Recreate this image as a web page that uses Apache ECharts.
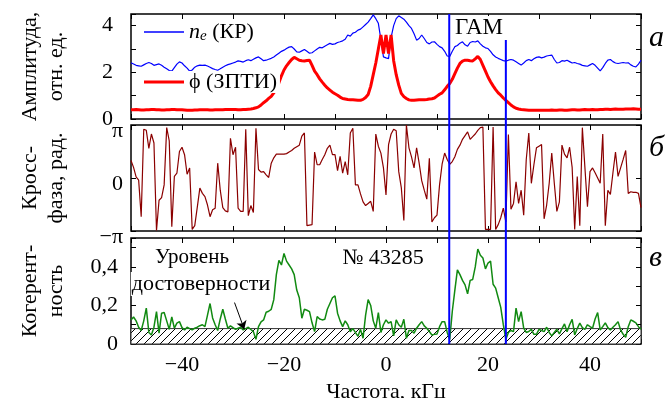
<!DOCTYPE html>
<html>
<head>
<meta charset="utf-8">
<script src="https://cdn.jsdelivr.net/npm/echarts@6/dist/echarts.min.js"></script>
<style>
  html, body { margin: 0; padding: 0; background: #fff; }
  #chart { width: 666px; height: 398px; }
</style>
</head>
<body>
<div id="chart"></div>
<script>
// частотная сетка, кГц (шаг 0.5)
const freq = Array.from({ length: 201 }, (_, i) => -50 + i * 0.5);

// амплитуда n_e (КР), отн. ед.
const neAmp = [
  2.41, 2.36, 2.30, 2.28, 2.26, 2.32, 2.38, 2.42, 2.38, 2.30, 2.33, 2.36, 2.30, 2.22, 2.15, 2.08, 2.05, 2.20, 2.35, 2.45,
  2.40, 2.28, 2.18, 2.05, 2.10, 2.22, 2.28, 2.31, 2.30, 2.31, 2.27, 2.22, 2.16, 2.12, 2.09, 2.15, 2.22, 2.28, 2.33, 2.36,
  2.40, 2.44, 2.49, 2.47, 2.44, 2.50, 2.54, 2.50, 2.56, 2.62, 2.66, 2.58, 2.50, 2.52, 2.56, 2.60, 2.66, 2.74, 2.82, 2.90,
  2.95, 3.02, 3.08, 3.10, 3.00, 2.88, 2.86, 2.92, 2.98, 2.90, 2.82, 2.84, 2.92, 3.00, 3.07, 3.05, 3.12, 3.18, 3.24, 3.20,
  3.22, 3.28, 3.31, 3.35, 3.42, 3.60, 3.55, 3.68, 3.72, 3.81, 3.85, 3.95, 4.05, 4.15, 4.30, 4.46, 4.30, 4.10, 3.40, 2.66,
  2.62, 2.59, 3.50, 4.00, 4.30, 4.42, 4.35, 4.28, 4.15, 4.00, 3.88, 3.65, 3.38, 3.45, 3.60, 3.45, 3.28, 3.22, 3.30, 3.31,
  3.20, 3.10, 3.05, 2.90, 2.70, 2.68, 2.90, 3.10, 3.15, 3.25, 3.31, 3.18, 3.12, 3.28, 3.32, 3.30, 3.35, 3.22, 3.12, 3.05,
  3.02, 2.90, 2.75, 2.66, 2.60, 2.55, 2.50, 2.48, 2.52, 2.55, 2.52, 2.45, 2.38, 2.31, 2.40, 2.50, 2.55, 2.50, 2.58, 2.64,
  2.66, 2.62, 2.65, 2.70, 2.72, 2.74, 2.55, 2.40, 2.42, 2.50, 2.48, 2.52, 2.46, 2.40, 2.42, 2.38, 2.35, 2.30, 2.28, 2.26,
  2.32, 2.38, 2.30, 2.18, 2.06, 2.20, 2.38, 2.52, 2.55, 2.46, 2.40, 2.38, 2.40, 2.42, 2.40, 2.41, 2.32, 2.26, 2.23, 2.35,
  2.52
];

// амплитуда ϕ (ЗПТИ), отн. ед.
const phiAmp = [
  0.40, 0.40, 0.41, 0.40, 0.39, 0.39, 0.40, 0.40, 0.41, 0.41, 0.40, 0.40, 0.39, 0.39, 0.40, 0.40, 0.41, 0.41, 0.40, 0.40,
  0.40, 0.39, 0.38, 0.38, 0.38, 0.39, 0.39, 0.40, 0.40, 0.40, 0.40, 0.39, 0.39, 0.40, 0.40, 0.40, 0.40, 0.41, 0.41, 0.41,
  0.41, 0.41, 0.40, 0.40, 0.41, 0.41, 0.42, 0.43, 0.45, 0.48, 0.52, 0.60, 0.70, 0.78, 0.88, 0.97, 1.12, 1.30, 1.55, 1.85,
  2.10, 2.28, 2.42, 2.55, 2.64, 2.58, 2.52, 2.50, 2.49, 2.51, 2.52, 2.30, 2.05, 1.90, 1.72, 1.58, 1.45, 1.33, 1.24, 1.15,
  1.08, 1.02, 0.94, 0.88, 0.86, 0.84, 0.83, 0.82, 0.81, 0.80, 0.80, 0.84, 0.92, 1.05, 1.40, 1.90, 2.40, 3.00, 3.60, 2.80,
  3.60, 2.80, 3.60, 2.50, 1.90, 1.45, 1.10, 0.96, 0.88, 0.82, 0.80, 0.80, 0.81, 0.82, 0.83, 0.83, 0.84, 0.86, 0.87, 0.90,
  0.98, 1.06, 1.12, 1.25, 1.40, 1.52, 1.70, 1.94, 2.18, 2.38, 2.48, 2.52, 2.52, 2.50, 2.49, 2.58, 2.68, 2.55, 2.30, 2.05,
  1.80, 1.60, 1.42, 1.26, 1.12, 1.02, 0.90, 0.80, 0.70, 0.60, 0.52, 0.46, 0.43, 0.41, 0.40, 0.39, 0.38, 0.38, 0.38, 0.38,
  0.38, 0.38, 0.37, 0.38, 0.38, 0.39, 0.38, 0.38, 0.39, 0.39, 0.38, 0.38, 0.39, 0.40, 0.40, 0.39, 0.39, 0.40, 0.41, 0.40,
  0.40, 0.41, 0.40, 0.40, 0.41, 0.41, 0.42, 0.42, 0.41, 0.42, 0.43, 0.42, 0.42, 0.42, 0.43, 0.43, 0.43, 0.44, 0.43, 0.42,
  0.42
];

// кросс-фаза, в единицах π
const crossPhase = [
  0.33, 0.20, 0.02, -0.04, -0.73, 0.92, 0.90, 0.56, 0.83, 0.66, -0.99, -0.42, -0.37, -0.13, 0.95, 0.70, -0.92, 0.03, 0.09, 0.50,
  0.58, 0.44, 0.07, 0.19, -0.97, -0.90, -0.55, -0.19, -0.29, -0.35, -0.51, -0.73, -0.60, -0.57, 0.28, -0.23, -0.56, -0.62, -0.64, 0.75,
  0.44, 0.58, -0.57, -0.63, -0.63, 0.92, -0.71, -0.52, -0.65, 0.94, 0.16, 0.11, 0.12, 0.06, 0.01, 0.28, 0.38, 0.45, 0.45, 0.45,
  0.45, 0.46, 0.49, 0.52, 0.56, 0.59, 0.62, 0.79, 0.85, -0.90, -0.89, -0.88, 0.49, 0.25, 0.25, 0.35, 0.44, 0.56, 0.62, 0.44,
  0.44, 0.14, 0.41, 0.09, 0.31, 0.06, 0.85, 0.94, -0.13, -0.13, -0.30, -0.45, -0.52, -0.48, -0.44, -0.63, 0.83, 0.60, 0.47, 0.19,
  -0.32, 0.63, 0.83, 0.92, 0.89, 0.12, -0.18, -0.80, 1.00, 0.57, 0.40, 0.19, 0.57, 0.28, -0.05, -0.23, -0.40, 0.37, -0.83, -0.75,
  -0.70, -0.13, 0.26, 0.47, 0.35, 0.26, 0.31, 0.40, 0.54, 0.62, 0.73, 0.80, 0.87, 0.73, 0.78, 0.83, 0.90, 0.95, 0.96, -0.97,
  -0.97, -0.97, 0.96, -0.97, -0.88, -0.75, -0.57, -0.83, 0.82, -0.59, -0.48, -0.07, -0.48, -0.23, -0.70, 0.35, 0.85, -0.10, 0.25, 0.57,
  0.60, 0.63, -0.77, -0.51, -0.10, 0.47, -0.10, -0.63, -0.45, 0.62, 0.45, 0.38, 0.58, 0.20, -0.97, 0.03, -0.90, 0.95, 0.20, -0.54,
  0.12, 0.19, 0.10, 0.00, -0.10, 0.83, -0.90, -0.23, -0.31, 0.10, 0.49, 0.03, 0.19, 0.35, 0.52, -0.29, -0.26, -0.27, -0.27, -0.29,
  -0.56
];

// когерентность
const coherence = [
  0.125, 0.14, 0.12, 0.087, 0.07, 0.12, 0.186, 0.06, 0.047, 0.087, 0.168, 0.056, 0.16, 0.163, 0.12, 0.076, 0.14, 0.082, 0.108, 0.116,
  0.085, 0.073, 0.087, 0.08, 0.073, 0.082, 0.087, 0.095, 0.1, 0.09, 0.15, 0.21, 0.135, 0.1, 0.07, 0.13, 0.18, 0.13, 0.082, 0.094,
  0.085, 0.076, 0.082, 0.087, 0.073, 0.08, 0.087, 0.075, 0.064, 0.024, 0.09, 0.115, 0.125, 0.165, 0.17, 0.18, 0.23, 0.36, 0.434, 0.41,
  0.47, 0.43, 0.41, 0.39, 0.36, 0.28, 0.24, 0.134, 0.18, 0.175, 0.168, 0.11, 0.064, 0.142, 0.13, 0.125, 0.128, 0.18, 0.21, 0.24,
  0.25, 0.16, 0.12, 0.09, 0.12, 0.1, 0.064, 0.08, 0.06, 0.04, 0.076, 0.03, 0.15, 0.23, 0.2, 0.12, 0.082, 0.163, 0.06, 0.1,
  0.125, 0.108, 0.116, 0.042, 0.125, 0.1, 0.087, 0.128, 0.03, 0.07, 0.07, 0.056, 0.082, 0.1, 0.116, 0.094, 0.082, 0.065, 0.047, 0.05,
  0.052, 0.09, 0.116, 0.116, 0.06, 0.024, 0.17, 0.28, 0.385, 0.36, 0.33, 0.307, 0.26, 0.33, 0.335, 0.40, 0.493, 0.46, 0.446, 0.39,
  0.42, 0.43, 0.31, 0.29, 0.24, 0.19, 0.1, 0.024, 0.06, 0.07, 0.064, 0.186, 0.116, 0.168, 0.082, 0.06, 0.065, 0.076, 0.05, 0.05,
  0.076, 0.07, 0.064, 0.087, 0.06, 0.042, 0.06, 0.076, 0.052, 0.08, 0.104, 0.064, 0.1, 0.128, 0.047, 0.08, 0.108, 0.085, 0.076, 0.1,
  0.09, 0.082, 0.13, 0.163, 0.073, 0.09, 0.11, 0.085, 0.073, 0.087, 0.1, 0.116, 0.073, 0.05, 0.035, 0.09, 0.125, 0.118, 0.11, 0.09,
  0.076
];

const confLevel = 0.08;          // уровень достоверности
const gamBand = [12.4, 23.5];    // границы ГАМ, кГц
const arrowFrom = [-29.7, 0.215];
const arrowTo = [-27.8, 0.077];
const ampMax = 4.5;

const FONT = '"Liberation Serif", "Times New Roman", serif';

// штриховка полосы достоверности
function hatchCanvas() {
  const c = document.createElement('canvas');
  c.width = 8; c.height = 8;
  const g = c.getContext('2d');
  g.fillStyle = '#fff';
  g.fillRect(0, 0, 8, 8);
  g.strokeStyle = '#000';
  g.lineWidth = 1;
  g.beginPath();
  g.moveTo(0, 8); g.lineTo(8, 0);
  g.moveTo(-1, 1); g.lineTo(1, -1);
  g.moveTo(7, 9); g.lineTo(9, 7);
  g.stroke();
  return c;
}

const chart = echarts.init(document.getElementById('chart'));

const tickStyle = { show: true, inside: true, length: 5, lineStyle: { color: '#000', width: 1 } };
const noLine = { show: false, onZero: false };
const nameStyle = { fontFamily: FONT, fontSize: 22, color: '#000', lineHeight: 26 };
const labelStyle = { fontFamily: FONT, fontSize: 22, color: '#000' };

function xAx(gridIndex, position, withLabels) {
  return {
    type: 'value', gridIndex, position, min: -50, max: 50, interval: 10,
    axisLine: noLine,
    axisTick: tickStyle,
    splitLine: { show: false },
    axisLabel: withLabels ? {
      ...labelStyle, margin: 10, showMinLabel: true, showMaxLabel: true,
      formatter: v => (v % 20 === 0 && Math.abs(v) < 50) ? (v < 0 ? '\u2212' + (-v) : String(v)) : ''
    } : { show: false }
  };
}

function yRight(gridIndex, min, max, interval) {
  return {
    type: 'value', gridIndex, position: 'right', min, max, interval,
    axisLine: noLine, axisTick: tickStyle,
    splitLine: { show: false }, axisLabel: { show: false }
  };
}

function gridAt(top, height) {
  return {
    left: 131, right: 25, top, height, show: true,
    borderColor: '#000', borderWidth: 1.5,
    containLabel: false, outerBoundsMode: 'none'
  };
}

const option = {
  animation: false,
  backgroundColor: '#fff',
  grid: [gridAt(14, 105), gridAt(125, 106), gridAt(238, 106)],
  xAxis: [
    xAx(0, 'bottom', false), xAx(0, 'top', false),
    xAx(1, 'bottom', false), xAx(1, 'top', false),
    Object.assign(xAx(2, 'bottom', true), {
      name: 'Частота, кГц', nameLocation: 'middle', nameGap: 35, nameTextStyle: nameStyle
    }),
    xAx(2, 'top', false)
  ],
  yAxis: [
    {
      type: 'value', gridIndex: 0, position: 'left', min: 0, max: ampMax, interval: 1,
      name: 'Амплитуда,\nотн. ед.', nameLocation: 'middle', nameRotate: 90, nameGap: 62,
      nameTextStyle: nameStyle,
      axisLine: noLine, axisTick: tickStyle, splitLine: { show: false },
      axisLabel: { ...labelStyle, margin: 18, formatter: v => (v % 2 === 0 ? String(v) : '') }
    },
    yRight(0, 0, ampMax, 1),
    {
      type: 'value', gridIndex: 1, position: 'left', min: -1, max: 1, interval: 1,
      name: 'Кросс-\nфаза, рад.', nameLocation: 'middle', nameRotate: 90, nameGap: 62,
      nameTextStyle: nameStyle,
      axisLine: noLine, axisTick: tickStyle, splitLine: { show: false },
      axisLabel: {
        ...labelStyle, margin: 8, verticalAlign: 'top', lineHeight: 12,
        formatter: v => (v === 1 ? 'π' : v === -1 ? '\u2212π' : '0')
      }
    },
    yRight(1, -1, 1, 1),
    {
      type: 'value', gridIndex: 2, position: 'left', min: 0, max: 0.55, interval: 0.1,
      name: 'Когерент-\nность', nameLocation: 'middle', nameRotate: 90, nameGap: 62,
      nameTextStyle: nameStyle,
      axisLine: noLine, axisTick: tickStyle, splitLine: { show: false },
      axisLabel: {
        ...labelStyle, margin: 13,
        formatter: v => {
          const r = Math.round(v * 10);
          if (Math.abs(v * 10 - r) > 1e-6 || r % 2 !== 0) return '';
          return r === 0 ? '0' : (r / 10).toFixed(1).replace('.', ',');
        }
      }
    },
    yRight(2, 0, 0.55, 0.1)
  ],
  legend: [
    {
      data: [{ name: 'ne', icon: 'rect' }], left: 141, top: 21, itemWidth: 40, itemHeight: 1.5, itemGap: 0,
      backgroundColor: '#fff', padding: [0, 3, 0, 3], selectedMode: false,
      formatter: () => '{n|n}{e|e} (КР)',
      textStyle: {
        ...labelStyle,
        rich: {
          n: { fontFamily: FONT, fontSize: 22, fontStyle: 'italic', color: '#000' },
          e: { fontFamily: FONT, fontSize: 15, fontStyle: 'italic', color: '#000', verticalAlign: 'bottom', padding: [9, 0, 0, 0] }
        }
      }
    },
    {
      data: [{ name: 'phi', icon: 'rect' }], left: 141, top: 71, itemWidth: 40, itemHeight: 3, itemGap: 0,
      backgroundColor: '#fff', padding: [0, 3, 0, 3], selectedMode: false,
      formatter: () => 'ϕ (ЗПТИ)',
      textStyle: labelStyle
    }
  ],
  series: [
    {
      name: 'ne', type: 'line', xAxisIndex: 0, yAxisIndex: 0, symbol: 'none',
      data: freq.map((f, i) => [f, neAmp[i]]),
      lineStyle: { color: '#0000ff', width: 1.2 }, itemStyle: { color: '#0000ff' }
    },
    {
      name: 'phi', type: 'line', xAxisIndex: 0, yAxisIndex: 0, symbol: 'none',
      data: freq.map((f, i) => [f, phiAmp[i]]),
      lineStyle: { color: '#ff0000', width: 3 }, itemStyle: { color: '#ff0000' }
    },
    {
      name: 'phase', type: 'line', xAxisIndex: 2, yAxisIndex: 2, symbol: 'none',
      data: freq.map((f, i) => [f, crossPhase[i]]),
      lineStyle: { color: '#8b0000', width: 1.2 }
    },
    {
      name: 'coh', type: 'line', xAxisIndex: 4, yAxisIndex: 4, symbol: 'none',
      data: freq.map((f, i) => [f, coherence[i]]),
      lineStyle: { color: '#118a11', width: 1.5 },
      markArea: {
        silent: true,
        itemStyle: {
          color: { image: hatchCanvas(), repeat: 'repeat' },
          opacity: 1, borderColor: '#333', borderWidth: 1
        },
        data: [[{ xAxis: -50, yAxis: 0 }, { xAxis: 50, yAxis: confLevel }]]
      },
      markLine: {
        silent: true, symbol: ['none', 'arrow'], symbolSize: 8,
        label: { show: false },
        lineStyle: { color: '#000', width: 1, type: 'solid' },
        data: [[{ coord: arrowFrom }, { coord: arrowTo }]]
      }
    }
  ]
};

chart.setOption(option);

// вертикальные границы ГАМ через все панели
const xLo = chart.convertToPixel({ xAxisIndex: 0 }, gamBand[0]);
const xHi = chart.convertToPixel({ xAxisIndex: 0 }, gamBand[1]);
const yTop = chart.convertToPixel({ yAxisIndex: 0 }, ampMax);
const yBot = chart.convertToPixel({ yAxisIndex: 4 }, 0);

function txt(x, y, text, font, extra) {
  return {
    type: 'text', x, y, z: 100,
    style: Object.assign({ text, font: font + ' ' + FONT, fill: '#000', textVerticalAlign: 'middle' }, extra || {})
  };
}

chart.setOption({
  graphic: [
    { type: 'line', z: 50, shape: { x1: xLo, y1: yTop, x2: xLo, y2: yBot }, style: { stroke: '#0000ff', lineWidth: 2 } },
    { type: 'line', z: 50, shape: { x1: xHi, y1: yTop + 26, x2: xHi, y2: yBot }, style: { stroke: '#0000ff', lineWidth: 2 } },
    txt((xLo + xHi) / 2 + 2, yTop + 14, 'ГАМ', '23px', { textAlign: 'center', backgroundColor: '#fff', padding: [0, 4, 1, 3] }),
    txt(383, 258, '№ 43285', '22px', { textAlign: 'center' }),
    txt(192, 257, 'Уровень', '21px', { textAlign: 'center' }),
    txt(201, 284, 'достоверности', '22px', { textAlign: 'center', backgroundColor: '#fff', padding: [1, 1, 1, 1] }),
    txt(649, 38, 'а', 'italic 30px'),
    txt(649, 148, 'б', 'italic 30px'),
    txt(649, 258, 'в', 'italic 30px')
  ]
});

window.addEventListener('resize', () => chart.resize());
</script>
</body>
</html>
